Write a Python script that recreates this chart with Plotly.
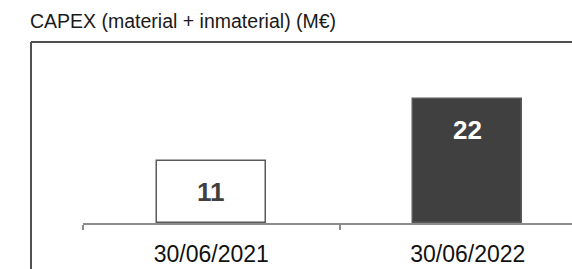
import plotly.graph_objects as go

categories = ["30/06/2021", "30/06/2022"]
values = [11, 22]
bar_colors = ["#ffffff", "#404040"]
text_colors = ["#404040", "#ffffff"]
title_text = "CAPEX (material + inmaterial) (M€)"

W, H = 572, 269
ML, MR, MT, MB = 83, 0, 43, 46
plot_w = W - ML - MR
plot_h = H - MT - MB

def px_x(px):
    return (px - ML) / plot_w

def px_y(py):
    return (H - MB - py) / plot_h

FONT = "Liberation Sans, Arial, sans-serif"

fig = go.Figure()
fig.add_trace(go.Bar(
    x=categories,
    y=values,
    width=0.425,
    marker=dict(color=bar_colors, line=dict(color="#5a5a5a", width=1.5)),
    hoverinfo="skip",
))

for c, v, tc in zip(categories, values, text_colors):
    fig.add_annotation(
        x=c, y=v, xref="x", yref="y",
        text=f"<b>{v}</b>", showarrow=False,
        yanchor="middle", yshift=-31,
        font=dict(family=FONT, size=26, color=tc),
    )

fig.add_annotation(
    x=px_x(28), y=px_y(21), xref="paper", yref="paper",
    text=title_text, showarrow=False, xanchor="left", yanchor="middle",
    font=dict(family=FONT, size=19.5, color="#1a1a1a"),
)

frame_color = "#505050"
fig.add_shape(type="line", xref="paper", yref="paper",
              x0=px_x(31), x1=px_x(W + 5), y0=px_y(42), y1=px_y(42),
              line=dict(color=frame_color, width=2))
fig.add_shape(type="line", xref="paper", yref="paper",
              x0=px_x(31), x1=px_x(31), y0=px_y(42), y1=px_y(H + 5),
              line=dict(color=frame_color, width=2))

fig.update_layout(
    width=W, height=H,
    margin=dict(l=ML, r=MR, t=MT, b=MB, pad=0),
    paper_bgcolor="white", plot_bgcolor="white",
    showlegend=False,
    bargap=0,
    xaxis=dict(
        type="category", categoryorder="array", categoryarray=categories,
        range=[-0.5, -0.5 + plot_w / 256.5],
        showline=True, linecolor="#8c8c8c", linewidth=2,
        ticks="outside", tickson="boundaries", ticklen=5, tickwidth=2, tickcolor="#8c8c8c",
        showgrid=False, zeroline=False,
        tickfont=dict(family=FONT, size=23, color="#111111"),
        ticklabelstandoff=9,
        fixedrange=True, automargin=False,
    ),
    yaxis=dict(range=[0, 32], visible=False, showgrid=False, zeroline=False, fixedrange=True),
)

fig.write_html("out.html", config={"displayModeBar": False},
               post_script="document.body.style.margin='0';document.body.style.padding='0';")
